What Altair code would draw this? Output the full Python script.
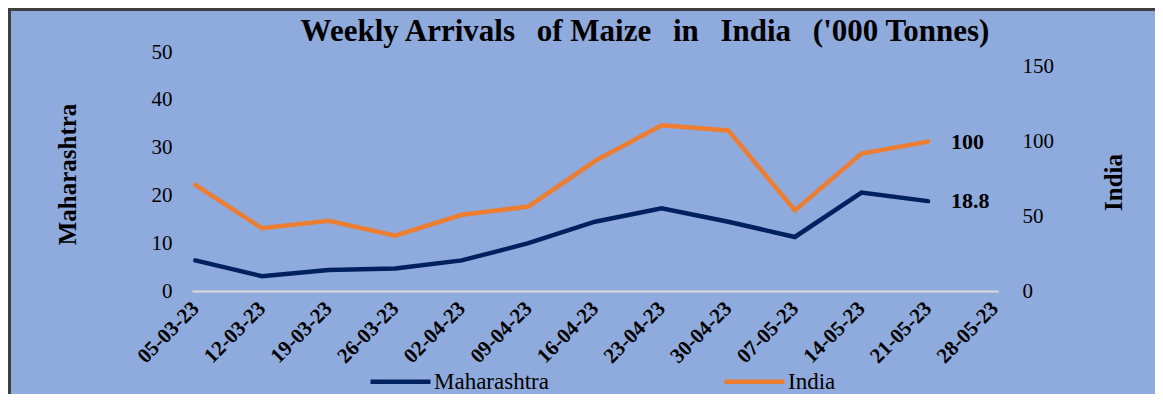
import altair as alt
import pandas as pd

# ---- data ----
dates = ["05-03-23", "12-03-23", "19-03-23", "26-03-23", "02-04-23", "09-04-23",
         "16-04-23", "23-04-23", "30-04-23", "07-05-23", "14-05-23", "21-05-23", "28-05-23"]
maharashtra = [6.4, 3.1, 4.4, 4.7, 6.4, 10.0, 14.5, 17.3, 14.5, 11.3, 20.6, 18.8, None]
india = [71.0, 42.0, 47.0, 37.0, 51.0, 56.5, 87.0, 111.0, 107.5, 54.0, 92.0, 100.0, None]

series_names = ["Maharashtra", "India"]
series_colors = ["#002060", "#ED7D31"]
GAP = "\u00a0\u00a0\u2009"
title_text = ("Weekly Arrivals" + GAP + "of Maize" + GAP + "in" + GAP + "India"
              + GAP + "('000 Tonnes)")
left_ticks = [0, 10, 20, 30, 40, 50]
right_ticks = [0, 50, 100, 150]
last_date = "21-05-23"

rows = []
for d, m, i in zip(dates, maharashtra, india):
    if m is not None:
        rows.append({"date": d, "series": "Maharashtra", "value": m})
    if i is not None:
        rows.append({"date": d, "series": "India", "value": i})
df = pd.DataFrame(rows)
df["label"] = df["value"].map(lambda v: f"{v:g}")

FONT = "Liberation Serif"
BG = "#8FAADC"
W, H = 806, 239
PL, PT, PR, PB = 184, 44, 157, 103

x_enc = alt.X(
    "date:N",
    sort=dates,
    scale=alt.Scale(type="point", domain=dates, padding=0.05),
    axis=alt.Axis(
        title=None, labelAngle=315, labelAlign="right", labelBaseline="middle",
        labelFont=FONT, labelFontSize=21, labelFontWeight="bold", labelColor="black",
        labelPadding=14, ticks=False, grid=False, domainColor="#D9D9D9", domainWidth=2,
        labelOverlap=False,
    ),
)

color_enc = alt.Color(
    "series:N",
    scale=alt.Scale(domain=series_names, range=series_colors),
    legend=alt.Legend(
        title=None, orient="none", legendX=176, legendY=297, direction="horizontal",
        symbolType="stroke", symbolSize=3600, symbolStrokeWidth=4.5,
        labelFont=FONT, labelFontSize=23, labelColor="black", labelOffset=1,
        columnPadding=166,
    ),
)

base = alt.Chart(df)

left_axis = alt.Axis(
    orient="left", values=left_ticks, grid=False, domain=False, ticks=False,
    labelFont=FONT, labelFontSize=21, labelColor="black", labelPadding=20,
    title="Maharashtra", titleFont=FONT, titleFontSize=25, titleFontWeight="bold",
    titleColor="black", titleAngle=270, titleX=-125, titleY=122,
    titleAlign="center", titleBaseline="middle",
)
right_axis = alt.Axis(
    orient="right", values=right_ticks, grid=False, domain=False, ticks=False,
    labelFont=FONT, labelFontSize=21, labelColor="black", labelPadding=24,
    title="India", titleFont=FONT, titleFontSize=25, titleFontWeight="bold",
    titleColor="black", titleAngle=270, titleX=115, titleY=130,
    titleAlign="center", titleBaseline="middle",
)

y_left = alt.Y("value:Q", scale=alt.Scale(domain=[0, 50]), axis=left_axis)
y_right = alt.Y("value:Q", scale=alt.Scale(domain=[0, 160]), axis=right_axis)

mah = base.transform_filter(alt.datum.series == "Maharashtra")
ind = base.transform_filter(alt.datum.series == "India")

line_style = dict(strokeWidth=4.5, strokeCap="round")
text_style = dict(align="left", baseline="middle", dx=23, font=FONT, fontSize=22,
                  fontWeight="bold", color="black")

mah_layer = alt.layer(
    mah.mark_line(**line_style).encode(x=x_enc, y=y_left, color=color_enc),
    mah.transform_filter(alt.datum.date == last_date).mark_text(**text_style).encode(
        x=x_enc, y=y_left, text="label:N"),
)
ind_layer = alt.layer(
    ind.mark_line(**line_style).encode(x=x_enc, y=y_right, color=color_enc),
    ind.transform_filter(alt.datum.date == last_date).mark_text(**text_style).encode(
        x=x_enc, y=y_right, text="label:N"),
)

one = pd.DataFrame({"t": [title_text]})
title_mark = alt.Chart(one).mark_text(
    align="center", baseline="alphabetic", font=FONT, fontSize=31, fontWeight="bold",
    color="black",
).encode(x=alt.value(453), y=alt.value(-11), text="t:N")

border_top = alt.Chart(one).mark_rule(color="#3F3F3F", strokeWidth=6).encode(
    x=alt.value(-PL), x2=alt.value(W + PR), y=alt.value(-PT))
border_left = alt.Chart(one).mark_rule(color="#3F3F3F", strokeWidth=6).encode(
    x=alt.value(-PL), y=alt.value(-PT), y2=alt.value(H + PB))

chart = alt.layer(
    border_top, border_left, title_mark, mah_layer, ind_layer
).resolve_scale(y="independent").properties(
    width=W, height=H,
    autosize=alt.AutoSizeParams(type="none"),
    padding={"left": PL, "top": PT, "right": PR, "bottom": PB},
    background=BG,
).configure(font=FONT).configure_view(stroke=None).configure_legend(
    labelFont=FONT, labelFontSize=23, labelColor="black"
)

chart.save("out.html", embed_options={"renderer": "svg", "actions": False})
